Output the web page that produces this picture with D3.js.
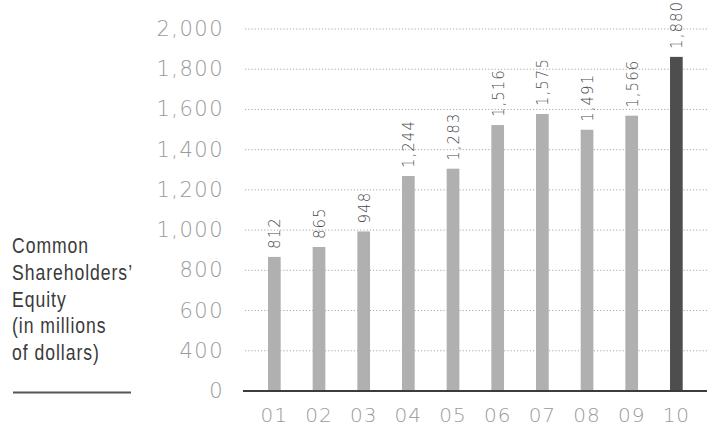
<!DOCTYPE html>
<html>
<head>
<meta charset="utf-8">
<script src="https://cdn.jsdelivr.net/npm/d3@7/dist/d3.min.js"></script>
<style>
  html, body { margin: 0; padding: 0; background: #fff; }
  svg { display: block; }
</style>
</head>
<body>
<svg id="chart" width="707" height="427"></svg>
<script>
// Fiscal years and common shareholders' equity (millions of dollars)
const years = ["01", "02", "03", "04", "05", "06", "07", "08", "09", "10"];
const equity = [812, 865, 948, 1244, 1283, 1516, 1575, 1491, 1566, 1880];
// Axis labels, top to bottom (the axis is broken below 400)
const tickLabels = ["2,000", "1,800", "1,600", "1,400", "1,200", "1,000", "800", "600", "400", "0"];
const titleLines = ["Common", "Shareholders\u2019", "Equity", "(in millions", "of dollars)"];

const svg = d3.select("#chart");
const W = 707;
const baseY = 391;

const x = d3.scaleBand()
  .domain(years)
  .range([252, 698.7])
  .paddingInner(0.716)
  .paddingOuter(0.358);

// Bar heights
const y = d3.scaleLinear().domain([0, 2000]).range([409, 34.4]);

// Evenly spaced axis rows
const yTick = d3.scalePoint().domain(tickLabels).range([29, baseY]);

const fmt = d3.format(",");

// Dotted gridlines
svg.append("g")
  .selectAll("line")
  .data(tickLabels.filter(t => t !== "0"))
  .join("line")
  .attr("x1", 245).attr("x2", W)
  .attr("y1", d => yTick(d)).attr("y2", d => yTick(d))
  .attr("stroke", "#a8a8a8")
  .attr("stroke-width", 1)
  .attr("stroke-dasharray", "1.2,2");

// Y tick labels
svg.append("g")
  .selectAll("text")
  .data(tickLabels)
  .join("text")
  .attr("x", 224)
  .attr("y", d => yTick(d))
  .attr("text-anchor", "end")
  .attr("dominant-baseline", "central")
  .attr("font-family", "'DejaVu Sans', sans-serif")
  .attr("font-weight", 200)
  .attr("font-size", 21)
  .attr("letter-spacing", 1.5)
  .attr("fill", "#9a9a9a")
  .text(d => d);

// Bars
svg.append("g")
  .selectAll("rect")
  .data(years)
  .join("rect")
  .attr("x", d => x(d))
  .attr("width", x.bandwidth())
  .attr("y", (d, i) => y(equity[i]))
  .attr("height", (d, i) => baseY - y(equity[i]))
  .attr("fill", (d, i) => i === years.length - 1 ? "#4e4e4e" : "#b0b0b0");

// Value labels, rotated
svg.append("g")
  .selectAll("text")
  .data(years)
  .join("text")
  .attr("transform", (d, i) => `translate(${x(d) + x.bandwidth() / 2 + 1},${y(equity[i]) - 8}) rotate(-90)`)
  .attr("text-anchor", "start")
  .attr("dominant-baseline", "central")
  .attr("font-family", "'DejaVu Sans', sans-serif")
  .attr("font-weight", 200)
  .attr("font-size", 15)
  .attr("letter-spacing", 1)
  .attr("fill", "#4a4a4a")
  .text((d, i) => fmt(equity[i]));

// Baseline
svg.append("line")
  .attr("x1", 243).attr("x2", W)
  .attr("y1", baseY).attr("y2", baseY)
  .attr("stroke", "#3c3c3c")
  .attr("stroke-width", 2.2);

// Year labels
svg.append("g")
  .selectAll("text")
  .data(years)
  .join("text")
  .attr("x", d => x(d) + x.bandwidth() / 2)
  .attr("y", 422)
  .attr("text-anchor", "middle")
  .attr("font-family", "'DejaVu Sans', sans-serif")
  .attr("font-weight", 200)
  .attr("font-size", 20)
  .attr("letter-spacing", 1)
  .attr("fill", "#9a9a9a")
  .text(d => d);

// Title block on the left, set in a condensed style
svg.append("g")
  .attr("transform", "translate(12,0) scale(0.8,1)")
  .selectAll("text")
  .data(titleLines)
  .join("text")
  .attr("x", 0)
  .attr("y", (d, i) => 253 + i * 26.8)
  .attr("font-family", "'Liberation Sans', sans-serif")
  .attr("font-size", 22)
  .attr("letter-spacing", 1.2)
  .attr("fill", "#3a3a3a")
  .text(d => d);

svg.append("line")
  .attr("x1", 13).attr("x2", 131)
  .attr("y1", 392.5).attr("y2", 392.5)
  .attr("stroke", "#555")
  .attr("stroke-width", 2);
</script>
</body>
</html>
